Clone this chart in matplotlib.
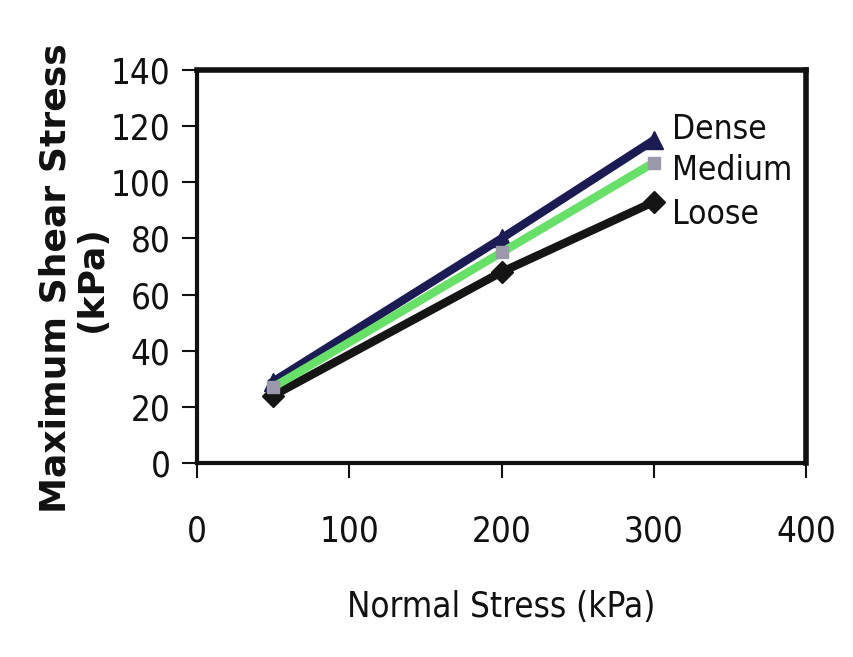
import numpy as np
import matplotlib.pyplot as plt

normal_stress = [50, 200, 300]
dense = [29, 80, 115]
medium = [27, 75, 107]
loose = [24, 68, 93]
series_names = ["Dense", "Medium", "Loose"]

plt.rcParams['font.family'] = ['DejaVu Sans']
plt.rcParams['font.stretch'] = 'condensed'

fig = plt.figure(figsize=(8.54, 6.57), dpi=100)
ax = fig.add_axes([0.2307, 0.2953, 0.7131, 0.5982])

ax.plot(normal_stress, dense, color='#1c1c55', lw=6, marker='^', ms=13,
        mfc='#1c1c55', mec='#1c1c55', zorder=3)
ax.plot(normal_stress, loose, color='#151515', lw=6, marker='D', ms=11,
        mfc='#151515', mec='#151515', zorder=3)
ax.plot(normal_stress, medium, color='#66e066', lw=6, marker='s', ms=9,
        mfc='#9a98aa', mec='#9a98aa', zorder=4)

# labels next to the last point of each series
offsets = [(13, 8), (13, -6), (13, -9)]
for name, ys, off in zip(series_names, [dense, medium, loose], offsets):
    ax.annotate(name, (normal_stress[-1], ys[-1]), xytext=off,
                textcoords='offset points', fontsize=24, va='center',
                ha='left', color='#111111')

ax.set_xlim(0, 400)
ax.set_ylim(0, 140)
ax.set_xticks([0, 100, 200, 300, 400])
ax.set_yticks(np.arange(0, 141, 20))
ax.tick_params(axis='both', labelsize=25, direction='out', length=11,
               width=1.5, colors='#111111')
ax.tick_params(axis='x', pad=26)
ax.tick_params(axis='y', pad=8)
for s in ax.spines.values():
    s.set_linewidth(3)
    s.set_color('#111111')
ax.spines['top'].set_linewidth(4)
ax.spines['right'].set_linewidth(4)

ax.set_xlabel("Normal Stress (kPa)", fontsize=25, labelpad=30, color='#111111')
ax.set_ylabel("Maximum Shear Stress\n(kPa)", fontsize=26, fontweight='bold',
              fontstretch='normal', color='#111111', linespacing=1.1)
ax.yaxis.set_label_coords(-0.145, 0.47)

plt.savefig("out.png", dpi=100)
